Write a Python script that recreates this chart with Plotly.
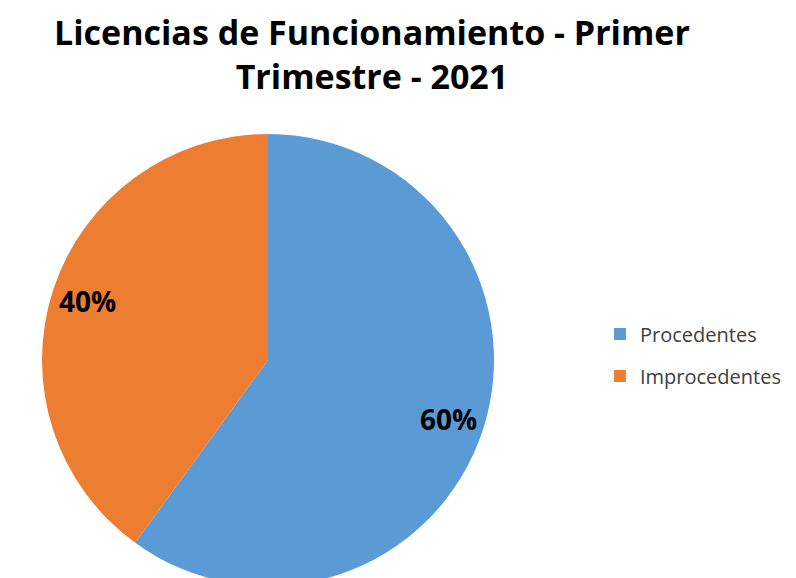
import math
import plotly.graph_objects as go

labels = ["Procedentes", "Improcedentes"]
values = [60, 40]
colors = ["#5B9BD5", "#ED7D31"]
title_text = "Licencias de Funcionamiento - Primer<br>Trimestre - 2021"

W, H = 796, 578
cx_px, top_px = 260, 126
diam = H - top_px
dom_x = [(cx_px - diam / 2) / W, (cx_px + diam / 2) / W]
dom_y = [0, 1 - top_px / H]

fig = go.Figure()
fig.add_trace(go.Pie(
    labels=labels,
    values=values,
    sort=False,
    direction="clockwise",
    rotation=0,
    marker=dict(colors=colors, line=dict(width=0)),
    textinfo="none",
    domain=dict(x=dom_x, y=dom_y),
    hoverinfo="label+percent",
    showlegend=False,
))

# percentage labels placed along each slice's mid-angle (Excel "best fit" style)
total = sum(values)
cy_px = top_px + diam / 2
r_px = diam / 2
cum = 0
for v in values:
    mid = (cum + v / 2) / total * 2 * math.pi
    cum += v
    x_px = cx_px + 0.84 * r_px * math.sin(mid)
    y_px = cy_px - 0.84 * r_px * math.cos(mid)
    fig.add_annotation(
        x=x_px / W, y=1 - y_px / H, xref="paper", yref="paper",
        text=f"{round(v / total * 100)}%", showarrow=False,
        font=dict(family="Open Sans", size=28, color="#000000", weight="bold"),
        xanchor="center", yanchor="middle",
    )

# chart title
fig.add_annotation(
    x=364 / W, y=1, xref="paper", yref="paper",
    text=title_text, showarrow=False, align="center",
    xanchor="center", yanchor="top", borderpad=0,
    font=dict(family="Open Sans", size=34, color="#000000", weight="bold"),
)

# legend entries
for lab, col in zip(labels, colors):
    fig.add_trace(go.Scatter(
        x=[None], y=[None], mode="markers", name=lab,
        marker=dict(symbol="square", size=12, color=col),
        legendgroup=lab, showlegend=True, hoverinfo="skip",
    ))

fig.update_layout(
    width=W, height=H,
    margin=dict(l=0, r=0, t=0, b=0),
    paper_bgcolor="white",
    plot_bgcolor="white",
    xaxis=dict(visible=False),
    yaxis=dict(visible=False),
    legend=dict(
        x=592 / W, xanchor="left",
        y=1 - 347 / H, yanchor="middle",
        font=dict(family="Open Sans", size=20, color="#404040"),
        bgcolor="rgba(0,0,0,0)",
        tracegroupgap=13,
    ),
    showlegend=True,
)

fig.write_html("out.html")
